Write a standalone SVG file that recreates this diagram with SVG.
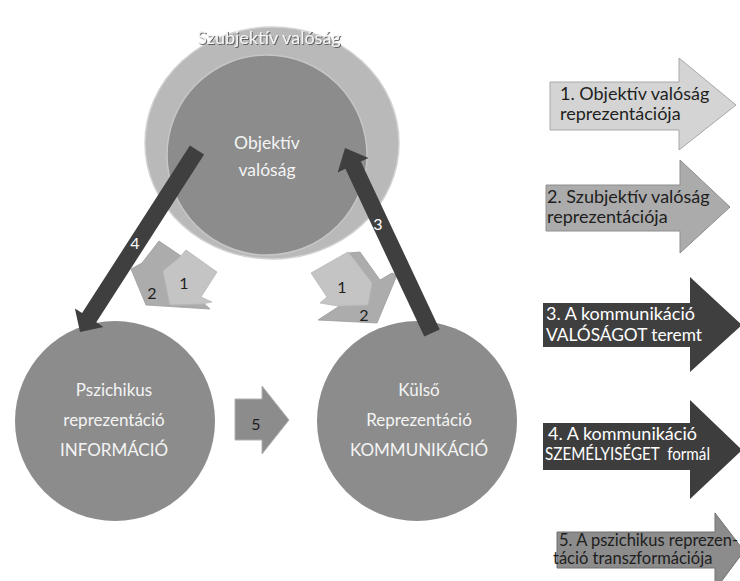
<svg xmlns="http://www.w3.org/2000/svg" width="740" height="581" viewBox="0 0 740 581">
<defs>
<filter id="sh" x="-10%" y="-30%" width="120%" height="160%">
<feDropShadow dx="1" dy="1" stdDeviation="0.6" flood-color="#555" flood-opacity="0.9"/>
</filter>
</defs>
<style>
text{font-family:Lato,"Liberation Sans",sans-serif;}
.ct{fill:#f4f4f4;font-size:17px;text-anchor:middle;}
.lt{font-size:18px;}
.l5{font-size:16.5px;}
.dk{fill:#1e1e1e;}
.wt{fill:#ffffff;}
.num{font-size:16px;text-anchor:middle;}
.big{fill:#3f3f3f;}
.mid{fill:#8c8c8c;stroke:#b0b0b0;stroke-width:1;}
.c1{fill:#c4c4c4;stroke:#b8b8b8;stroke-width:0.8;}
.c2{fill:#acacac;stroke:#9c9c9c;stroke-width:0.8;}
</style>
<rect width="740" height="581" fill="#ffffff"/>

<g id="node-szubjektiv">
<ellipse cx="272" cy="143" rx="127" ry="116" fill="#b9b9b9" stroke="#d2d2d2" stroke-width="1.5"/>
<text class="ct" x="269" y="44" style="font-size:18px" filter="url(#sh)">Szubjektív valóság</text>
</g>
<g id="node-objektiv">
<circle cx="267" cy="155" r="100" fill="#8c8c8c" stroke="#c6c6c6" stroke-width="1.5"/>
<text class="ct" x="267" y="149" style="font-size:17.5px">Objektív</text>
<text class="ct" x="267" y="176" style="font-size:17.5px">valóság</text>
</g>
<g id="node-pszichikus">
<circle cx="115" cy="421" r="100" fill="#8c8c8c"/>
<text class="ct" x="114" y="396">Pszichikus</text>
<text class="ct" x="114" y="426">reprezentáció</text>
<text class="ct" x="114" y="456">INFORMÁCIÓ</text>
</g>
<g id="node-kulso">
<circle cx="417" cy="421" r="100" fill="#8c8c8c"/>
<text class="ct" x="419" y="396">Külső</text>
<text class="ct" x="419" y="426">Reprezentáció</text>
<text class="ct" x="419" y="456">KOMMUNIKÁCIÓ</text>
</g>

<g id="connectors">
<g id="cluster-left">
<polygon class="c2" points="131,269 142,263 159,241 181,256 200,300 210,309 146,305"/>
<polygon class="c1" points="163,271 180,257 186,250 217,272 201,297 212,302 202,304 170,305"/>
<text class="num dk" x="184" y="289">1</text>
<text class="num dk" x="152" y="299">2</text>
</g>
<g id="cluster-right">
<polygon class="c2" points="360,252 380,280 392,273 397,275 377,323 318,320 338,307 345,300 348,253"/>
<polygon class="c1" points="311,273 348,252 356,262 372,283 368,305 338,306 320,303 327,297"/>
<text class="num dk" x="342" y="293">1</text>
<text class="num dk" x="364" y="321">2</text>
</g>
<g id="arrow-4">
<polygon class="big" points="189.9,145.4 204.1,154.6 96.3,322.3 103.5,326.9 80,332 74.9,308.5 82.1,313.1"/>
<text class="num wt" x="135" y="249">4</text>
</g>
<g id="arrow-3">
<polygon class="big" points="439.7,329.4 424.3,336.6 345.4,168.8 337.7,172.4 345,148 368.5,158 360.8,161.6"/>
<text class="num wt" x="378" y="230">3</text>
</g>
<g id="arrow-5">
<polygon class="mid" points="235,399 262,399 262,386 289,420 262,454 262,440 235,440"/>
<text class="num dk" x="256" y="430">5</text>
</g>
</g>

<g id="legend-1">
<polygon points="550,82 679,82 679,58 736,105 679,150 679,130 550,130" fill="#d4d4d4" stroke="#a8a8a8" stroke-width="1"/>
<text class="lt dk" x="560" y="100">1. Objektív valóság</text>
<text class="lt dk" x="560" y="120">reprezentációja</text>
</g>
<g id="legend-2">
<polygon points="546,185 680,185 680,160 730,207 680,253 680,231 546,231" fill="#ababab" stroke="#8e8e8e" stroke-width="1"/>
<text class="lt dk" x="547" y="203">2. Szubjektív valóság</text>
<text class="lt dk" x="547" y="223">reprezentációja</text>
</g>
<g id="legend-3">
<polygon points="543,303 690,303 690,277 742,325 690,372 690,347 543,347" fill="#3f3f3f"/>
<text class="lt wt" x="546" y="320">3. A kommunikáció</text>
<text class="lt wt" x="546" y="341" textLength="156" lengthAdjust="spacingAndGlyphs">VALÓSÁGOT teremt</text>
</g>
<g id="legend-4">
<polygon points="543,423 690,423 690,400 742,450 690,499 690,470 543,470" fill="#3d3d3d"/>
<text class="lt wt" x="548" y="440">4. A kommunikáció</text>
<text class="lt wt" x="545" y="460" xml:space="preserve" style="white-space:pre" textLength="165" lengthAdjust="spacingAndGlyphs">SZEMÉLYISÉGET  formál</text>
</g>
<g id="legend-5">
<polygon points="557,532 715,532 715,513 744,551 715,590 715,568 557,568" fill="#8c8c8c" stroke="#707070" stroke-width="1"/>
<text class="l5 dk" x="559" y="546">5. A pszichikus reprezen-</text>
<text class="l5 dk" x="553" y="564">táció transzformációja</text>
</g>
</svg>
